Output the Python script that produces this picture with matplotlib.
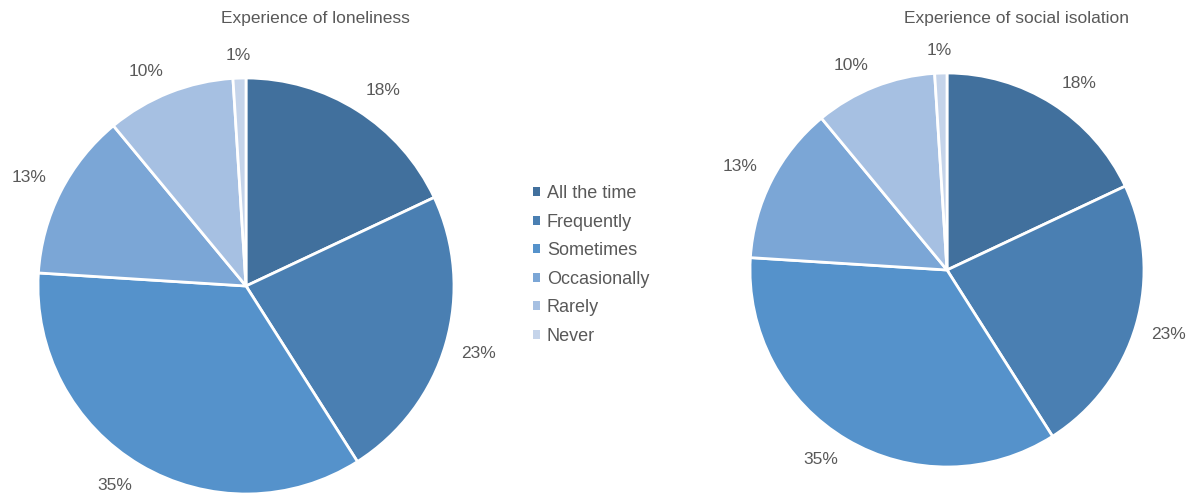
import matplotlib
matplotlib.use("Agg")
import numpy as np
import matplotlib.pyplot as plt
from matplotlib.patches import Patch

plt.rcParams['font.family'] = ['Liberation Sans', 'DejaVu Sans']

categories = ["All the time", "Frequently", "Sometimes", "Occasionally", "Rarely", "Never"]
loneliness = [18, 23, 35, 13, 10, 1]
isolation = [18, 23, 35, 13, 10, 1]
titles = ["Experience of loneliness", "Experience of social isolation"]
colors = ["#41709D", "#4A7FB2", "#5592CB", "#7BA6D6", "#A6C0E2", "#C5D4EA"]
text_color = "#595959"

W, H = 1193, 496
fig = plt.figure(figsize=(W / 100, H / 100), dpi=100)
renderer = fig.canvas.get_renderer()

def add_pie(cx, cy, r, values, title, tx):
    ax = fig.add_axes([(cx - r) / W, (H - cy - r) / H, 2 * r / W, 2 * r / H])
    wedges, _ = ax.pie(values, colors=colors, startangle=90, counterclock=False,
                       radius=1.0,
                       wedgeprops=dict(edgecolor="white", linewidth=2))
    ax.set_xlim(-1, 1)
    ax.set_ylim(-1, 1)
    ax.set_aspect("equal")
    total = float(sum(values))
    gap = 16.0 / r
    for w, v in zip(wedges, values):
        mid = np.deg2rad((w.theta1 + w.theta2) / 2.0)
        px, py = (1 + gap) * np.cos(mid), (1 + gap) * np.sin(mid)
        t = ax.annotate(f"{v / total * 100:.0f}%", xy=(px, py), xytext=(0, 0),
                        textcoords="offset pixels", ha="center", va="center",
                        fontsize=12.5, color=text_color, annotation_clip=False)
        ext = t.get_window_extent(renderer)
        dx = ext.width / 2 * np.clip(3 * np.cos(mid), -1, 1)
        dy = ext.height / 2 * np.clip(3 * np.sin(mid), -1, 1) * 0.85
        t.xyann = (dx, dy)
    fig.text(tx / W, (H - 18) / H, title, ha="center", va="center",
             fontsize=12.5, color=text_color)

add_pie(246, 286, 208, loneliness, titles[0], 315)
add_pie(947, 270, 197, isolation, titles[1], 1016)

handles = [Patch(facecolor=c, edgecolor="none") for c in colors]
fig.legend(handles, categories, loc="center left",
           bbox_to_anchor=(517 / W, (H - 265) / H), frameon=False,
           fontsize=13, labelcolor=text_color, handlelength=0.4,
           handleheight=0.4, handletextpad=0.35, labelspacing=0.64)

fig.savefig("out.png", dpi=100)
